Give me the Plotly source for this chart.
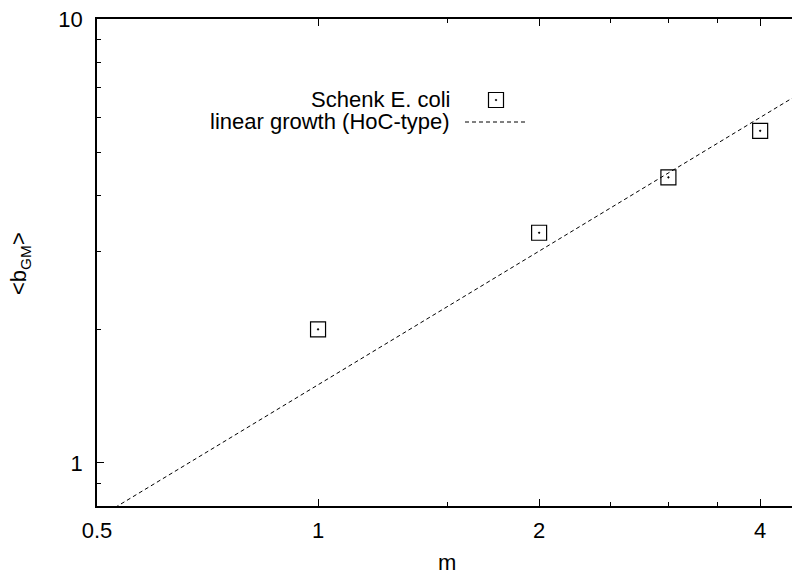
import math
import plotly.graph_objects as go

# Measured mean number of GM bands per generation m (Schenk, E. coli)
m_data = [1, 2, 3, 4]
b_data = [2.0, 3.3, 4.4, 5.6]

# Linear growth reference line (HoC-type), endpoints across the x range
m_line = [0.5, 4.5]
b_line = [0.75, 6.75]

# Axis ticks
x_major = [0.5, 1, 2, 4]
x_major_text = ["0.5", "1", "2", "4"]
x_minor = [1.5, 2.5, 3, 3.5]
y_major = [1, 10]
y_major_text = ["1", "10"]
y_minor = [0.8, 0.9, 2, 3, 4, 5, 6, 7, 8, 9]

FONT = "Liberation Sans, Arial, Helvetica, sans-serif"
FS = 22

W, H = 792, 573
L, R, T, B = 97, 0, 19, 67
pw, ph = W - L - R, H - T - B


def px_x(px):
    return (px - L) / pw


def px_y(py):
    return (H - B - py) / ph


fig = go.Figure()

fig.add_trace(go.Scatter(
    x=m_line, y=b_line, mode="lines",
    line=dict(color="black", width=1, dash="4px,3px"),
    showlegend=False, hoverinfo="skip",
))
fig.add_trace(go.Scatter(
    x=m_data, y=b_data, mode="markers",
    marker=dict(symbol="square-open-dot", size=15, color="black",
                line=dict(color="black", width=1.2)),
    showlegend=False,
))

# Key samples drawn on an overlay axis in paper-like units
fig.add_trace(go.Scatter(
    x=[px_x(496)], y=[px_y(100)], mode="markers",
    marker=dict(symbol="square-open-dot", size=15, color="black",
                line=dict(color="black", width=1.2)),
    xaxis="x2", yaxis="y2", showlegend=False, hoverinfo="skip",
))
fig.add_trace(go.Scatter(
    x=[px_x(465), px_x(526)], y=[px_y(122), px_y(122)], mode="lines",
    line=dict(color="black", width=1, dash="4px,3px"),
    xaxis="x2", yaxis="y2", showlegend=False, hoverinfo="skip",
))

axis_common = dict(
    showline=True, linecolor="black", linewidth=1.5,
    ticks="inside", ticklen=7, tickwidth=1.2, tickcolor="black",
    showgrid=False, zeroline=False,
    tickfont=dict(family=FONT, size=FS, color="black"),
)

fig.update_layout(
    width=W, height=H,
    margin=dict(l=L, r=R, t=T, b=B),
    paper_bgcolor="white", plot_bgcolor="white",
    font=dict(family=FONT, size=FS, color="black"),
    xaxis=dict(
        type="log", range=[math.log10(0.5), math.log10(4.42)],
        tickmode="array", tickvals=x_major, ticktext=x_major_text,
        mirror="ticks", ticklabelstandoff=4,
        minor=dict(tickmode="array", tickvals=x_minor, ticks="inside",
                   ticklen=4, tickwidth=1, tickcolor="black"),
        **axis_common,
    ),
    yaxis=dict(
        type="log", range=[math.log10(0.8), 1],
        tickmode="array", tickvals=y_major, ticktext=y_major_text,
        mirror=False, ticklabelstandoff=8,
        minor=dict(tickmode="array", tickvals=y_minor, ticks="inside",
                   ticklen=4, tickwidth=1, tickcolor="black"),
        **axis_common,
    ),
    xaxis2=dict(overlaying="x", range=[0, 1], visible=False, anchor="y2"),
    yaxis2=dict(overlaying="y", range=[0, 1], visible=False, anchor="x2"),
    annotations=[
        dict(text="Schenk E. coli", x=px_x(452), y=px_y(100),
             xref="paper", yref="paper", xanchor="right", yanchor="middle",
             showarrow=False, font=dict(family=FONT, size=FS)),
        dict(text="linear growth (HoC-type)", x=px_x(452), y=px_y(122),
             xref="paper", yref="paper", xanchor="right", yanchor="middle",
             showarrow=False, font=dict(family=FONT, size=FS)),
        dict(text="m", x=px_x(447), y=px_y(562),
             xref="paper", yref="paper", xanchor="center", yanchor="middle",
             showarrow=False, font=dict(family=FONT, size=FS)),
        dict(text="&lt;b<sub>GM</sub>&gt;", x=px_x(20), y=px_y(264),
             xref="paper", yref="paper", xanchor="center", yanchor="middle",
             textangle=-90, showarrow=False, font=dict(family=FONT, size=FS)),
    ],
)

fig.write_html("out.html")
